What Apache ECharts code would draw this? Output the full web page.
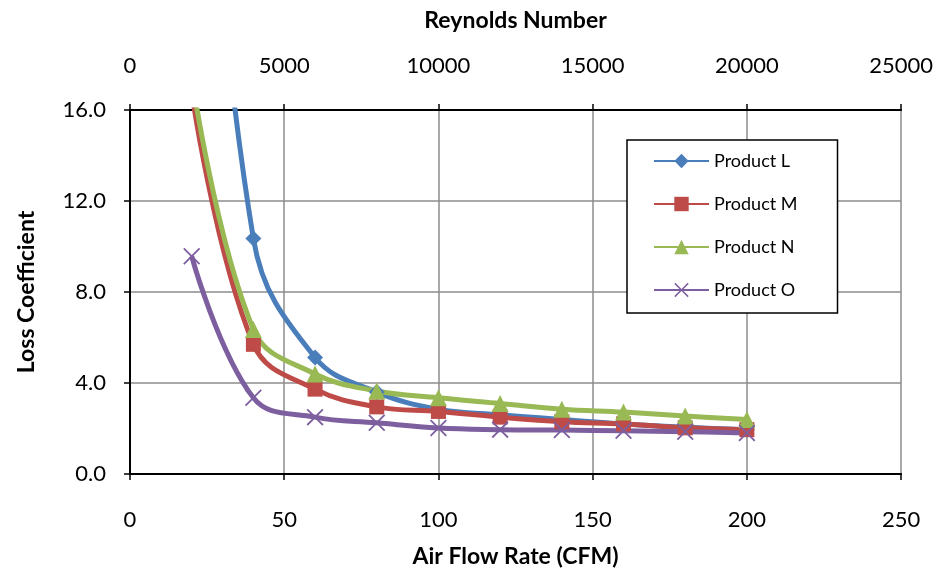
<!DOCTYPE html>
<html>
<head>
<meta charset="utf-8">
<script src="https://cdn.jsdelivr.net/npm/echarts@6/dist/echarts.min.js"></script>
<style>
  html, body { margin: 0; padding: 0; background: #fff; }
  #chart { width: 936px; height: 573px; }
</style>
</head>
<body>
<div id="chart"></div>
<script>
// air flow rate (CFM)
const flowRate = [20, 40, 60, 80, 100, 120, 140, 160, 180, 200];
// loss coefficient per product
const productL = [38, 10.35, 5.12, 3.6, 2.85, 2.6, 2.4, 2.2, 2.05, 1.95];
const productM = [16.8, 5.7, 3.73, 2.95, 2.75, 2.5, 2.3, 2.2, 2.03, 1.95];
const productN = [17.5, 6.35, 4.4, 3.65, 3.35, 3.1, 2.85, 2.72, 2.55, 2.4];
const productO = [9.57, 3.35, 2.5, 2.25, 2.02, 1.95, 1.93, 1.9, 1.86, 1.8];

const font = 'Lato, "Noto Sans", sans-serif';
const crossPath = 'path://M0,1.5L1.5,0L10,8.5L18.5,0L20,1.5L11.5,10L20,18.5L18.5,20L10,11.5L1.5,20L0,18.5L8.5,10Z';

function pairs(ys) {
  return flowRate.map((x, i) => [x, ys[i]]);
}

function makeSeries(name, ys, color, symbol, size) {
  return {
    name: name,
    type: 'line',
    smooth: 0.4,
    clip: true,
    data: pairs(ys),
    symbol: symbol,
    symbolSize: size,
    showAllSymbol: true,
    lineStyle: { color: color, width: 5 },
    itemStyle: { color: color, borderColor: color, borderWidth: 0, opacity: 1 },
    emphasis: { disabled: true }
  };
}

let chart = echarts.init(document.getElementById('chart'));

let option = {
  animation: false,
  textStyle: { fontFamily: font, color: '#000' },
  grid: { left: 130, right: 33, top: 110, bottom: 98 },
  legend: {
    orient: 'vertical',
    left: 627,
    top: 140,
    backgroundColor: '#fff',
    borderColor: '#000',
    borderWidth: 1.5,
    padding: [12, 40, 14, 26],
    itemGap: 25,
    itemWidth: 55,
    itemHeight: 18,
    textStyle: { fontFamily: font, fontSize: 18, color: '#000' },
    data: ['Product L', 'Product M', 'Product N', 'Product O']
  },
  xAxis: [
    {
      type: 'value',
      position: 'bottom',
      min: 0, max: 250, interval: 50,
      name: 'Air Flow Rate (CFM)',
      nameLocation: 'middle',
      nameGap: 71,
      nameTextStyle: { fontFamily: font, fontSize: 23, fontWeight: 'bold', color: '#000' },
      axisLine: { lineStyle: { color: '#000', width: 2 } },
      axisTick: { show: true, length: 6, lineStyle: { color: '#000', width: 1.5 } },
      axisLabel: { fontFamily: font, fontSize: 22, color: '#000', margin: 35 },
      splitLine: { show: true, lineStyle: { color: '#8c8c8c', width: 1.5 } }
    },
    {
      type: 'value',
      position: 'top',
      min: 0, max: 25000, interval: 5000,
      name: 'Reynolds Number',
      nameLocation: 'middle',
      nameGap: 78,
      nameTextStyle: { fontFamily: font, fontSize: 23, fontWeight: 'bold', color: '#000' },
      axisLine: { show: true, lineStyle: { color: '#000', width: 2 } },
      axisTick: { show: true, length: 6, lineStyle: { color: '#000', width: 1.5 } },
      axisLabel: { fontFamily: font, fontSize: 22, color: '#000', margin: 33,
        formatter: v => String(v) },
      splitLine: { show: false }
    }
  ],
  yAxis: {
    type: 'value',
    min: 0, max: 16, interval: 4,
    name: 'Loss Coefficient',
    nameLocation: 'middle',
    nameGap: 92,
    nameRotate: 90,
    nameTextStyle: { fontFamily: font, fontSize: 23, fontWeight: 'bold', color: '#000' },
    axisLine: { show: true, lineStyle: { color: '#000', width: 2 } },
    axisTick: { show: true, length: 6, lineStyle: { color: '#000', width: 1.5 } },
    axisLabel: { fontFamily: font, fontSize: 22, color: '#000', margin: 24,
      formatter: v => v.toFixed(1) },
    splitLine: { show: true, lineStyle: { color: '#8c8c8c', width: 1.5 } }
  },
  series: [
    makeSeries('Product L', productL, '#4a7ebb', 'diamond', 16),
    makeSeries('Product M', productM, '#be4b48', 'rect', 15),
    makeSeries('Product N', productN, '#98b954', 'triangle', 17),
    makeSeries('Product O', productO, '#7d5fa0', crossPath, 17)
  ]
};

chart.setOption(option);
</script>
</body>
</html>
